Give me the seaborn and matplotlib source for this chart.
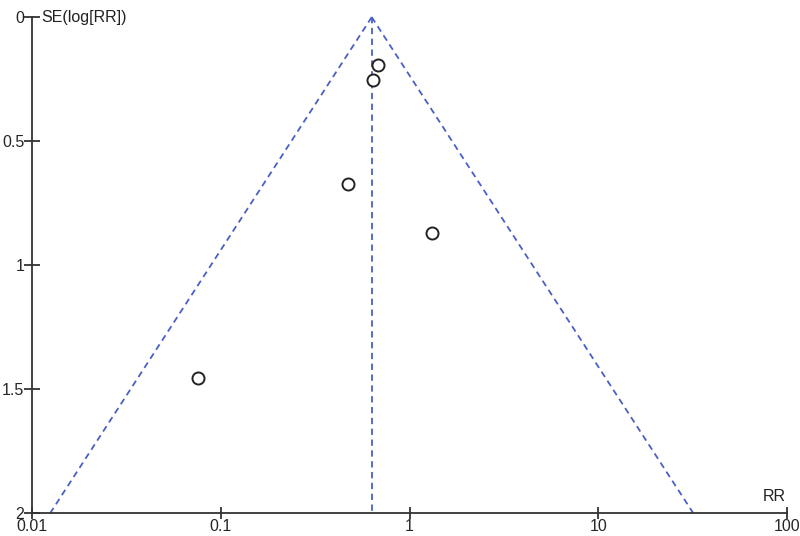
import numpy as np
import pandas as pd
import seaborn as sns
import matplotlib
matplotlib.use("Agg")
import matplotlib.pyplot as plt
from matplotlib import ticker

# study estimates
rr = [0.681, 0.641, 0.472, 1.316, 0.0756]
se = [0.194, 0.254, 0.673, 0.871, 1.456]
pooled_rr = 0.63
se_range = [0, 2]
x_ticks = [0.01, 0.1, 1, 10, 100]
x_labels = ["0.01", "0.1", "1", "10", "100"]
y_ticks = [0, 0.5, 1, 1.5, 2]
y_labels = ["0", "0.5", "1", "1.5", "2"]

sns.set_style("white")
plt.rcParams['font.family'] = ['Liberation Sans', 'DejaVu Sans']

df = pd.DataFrame({"RR": rr, "SE": se})

# pseudo 95% confidence limits
se_arr = np.array(se_range, dtype=float)
lower = np.exp(np.log(pooled_rr) - 1.96 * se_arr)
upper = np.exp(np.log(pooled_rr) + 1.96 * se_arr)

fig = plt.figure(figsize=(8, 5.36), dpi=100)
ax = fig.add_axes([0.04, 0.043, 0.944, 0.925])

blue = "#4a5fc4"
ax.plot(lower, se_arr, ls=(0, (3.5, 2.5)), color=blue, lw=1.3, clip_on=False)
ax.plot(upper, se_arr, ls=(0, (3.5, 2.5)), color=blue, lw=1.3, clip_on=False)
ax.plot([pooled_rr, pooled_rr], se_range, ls=(0, (3.5, 2.5)), color=blue, lw=1.3, clip_on=False)

sns.scatterplot(data=df, x="RR", y="SE", ax=ax, marker="o", s=75,
                facecolor="white", edgecolor="#222222", linewidth=1.4, zorder=3)

ax.set_xscale("log")
ax.set_xlim(0.01, 100)
ax.set_ylim(2, 0)
ax.xaxis.set_major_locator(ticker.FixedLocator(x_ticks))
ax.xaxis.set_minor_locator(ticker.NullLocator())
ax.set_xticklabels(x_labels)
ax.set_yticks(y_ticks)
ax.set_yticklabels(y_labels)
ax.set_xlabel("")
ax.set_ylabel("")

for s in ["top", "right"]:
    ax.spines[s].set_visible(False)
for s in ["left", "bottom"]:
    ax.spines[s].set_color("#333333")
    ax.spines[s].set_linewidth(1.3)

ax.tick_params(axis="x", direction="inout", length=9, width=1.3, color="#333333",
               labelsize=11.5, pad=0, bottom=True)
ax.tick_params(axis="y", direction="inout", length=11, width=1.3, color="#333333",
               labelsize=11.5, pad=0, left=True)

ax.text(0.012, 1.0, "SE(log[RR])", transform=ax.transAxes, fontsize=11.5,
        ha="left", va="center", color="#222222")
ax.text(0.998, 0.018, "RR", transform=ax.transAxes, fontsize=11.5,
        ha="right", va="bottom", color="#222222")

fig.savefig("out.png", dpi=100)
